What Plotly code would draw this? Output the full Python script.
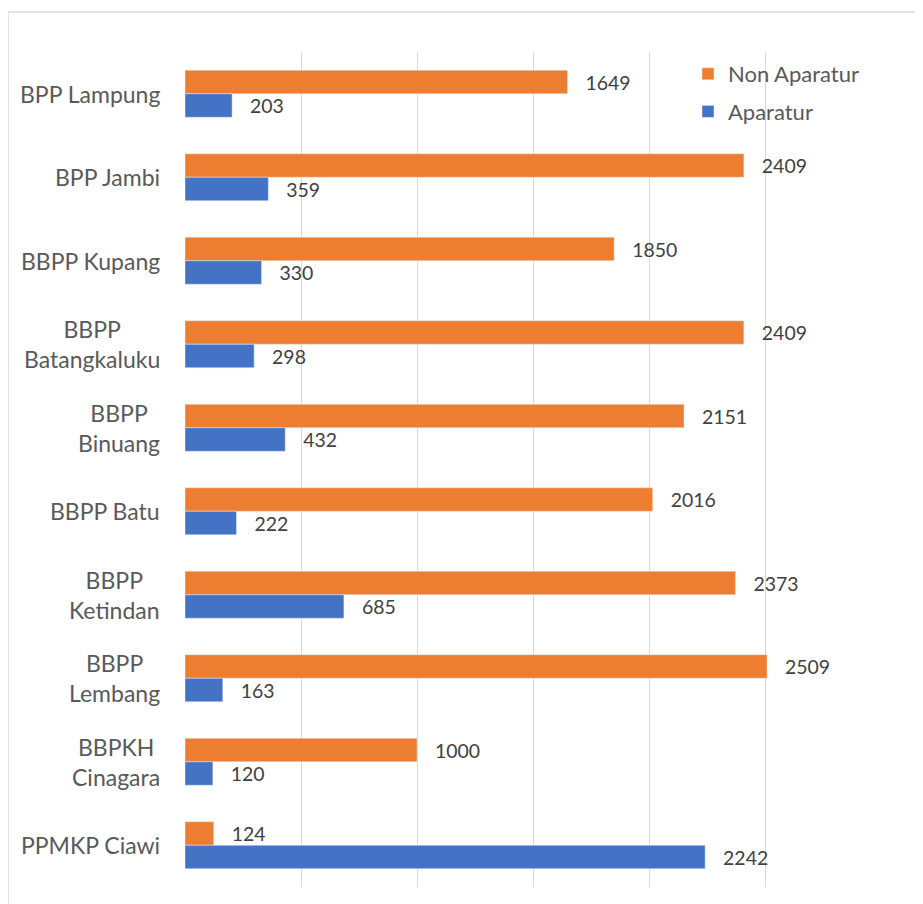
import plotly.graph_objects as go

categories = ["BPP Lampung", "BPP Jambi", "BBPP Kupang", "BBPP<br>Batangkaluku", "BBPP<br>Binuang",
              "BBPP Batu", "BBPP<br>Ketindan", "BBPP<br>Lembang", "BBPKH<br>Cinagara", "PPMKP Ciawi"]
non_aparatur = [1649, 2409, 1850, 2409, 2151, 2016, 2373, 2509, 1000, 124]
aparatur = [203, 359, 330, 298, 432, 222, 685, 163, 120, 2242]
x_ticks = [0, 500, 1000, 1500, 2000, 2500, 3000]

FONT = "Lato"
# page body has an 8px margin, so figure coords = screen coords - 8
W, H = 915, 896
L, R, T, B = 177, 42, 44, 17
pw, ph = W - L - R, H - T - B

fig = go.Figure()
fig.add_trace(go.Bar(name="Non Aparatur", y=categories, x=non_aparatur, orientation="h",
                     marker=dict(color="#ED7D31"), legendgroup="na",
                     texttemplate="   %{x}", textposition="outside",
                     textfont=dict(family=FONT, size=24, color="#404040"), cliponaxis=False))
fig.add_trace(go.Bar(name="Aparatur", y=categories, x=aparatur, orientation="h",
                     marker=dict(color="#4472C4"), legendgroup="a",
                     texttemplate="   %{x}", textposition="outside",
                     textfont=dict(family=FONT, size=24, color="#404040"), cliponaxis=False))

for c in categories:
    fig.add_annotation(x=(154 - L) / pw, xref="paper", y=c, yref="y", text=c,
                       showarrow=False, xanchor="right", align="center",
                       font=dict(family=FONT, size=23, color="#595959"))

fig.add_shape(type="rect", xref="paper", yref="paper",
              x0=(0 - L) / pw, x1=(930 - L) / pw, y0=(H - B - 910) / ph, y1=(H - B - 4) / ph,
              line=dict(color="#D9D9D9", width=1.5), fillcolor="rgba(0,0,0,0)", layer="below")

fig.update_layout(
    width=W, height=H, margin=dict(l=L, r=R, t=T, b=B),
    paper_bgcolor="white", plot_bgcolor="white",
    barmode="group", bargap=0.437, bargroupgap=0,
    font=dict(family=FONT, size=22, color="#595959"),
    legend=dict(x=(680 - L) / pw, y=(H - B - 45) / ph, xanchor="left", yanchor="top",
                traceorder="grouped", tracegroupgap=6, bgcolor="rgba(0,0,0,0)",
                font=dict(family=FONT, size=22, color="#595959"), itemwidth=30),
    xaxis=dict(range=[0, 3000], tickvals=x_ticks, showticklabels=False, showgrid=True,
               gridcolor="#D9D9D9", gridwidth=1, zeroline=False, showline=False, fixedrange=True),
    yaxis=dict(autorange="reversed", showticklabels=False, showgrid=False, zeroline=False,
               showline=False, ticks=""),
    showlegend=True,
)

fig.write_html("out.html")
